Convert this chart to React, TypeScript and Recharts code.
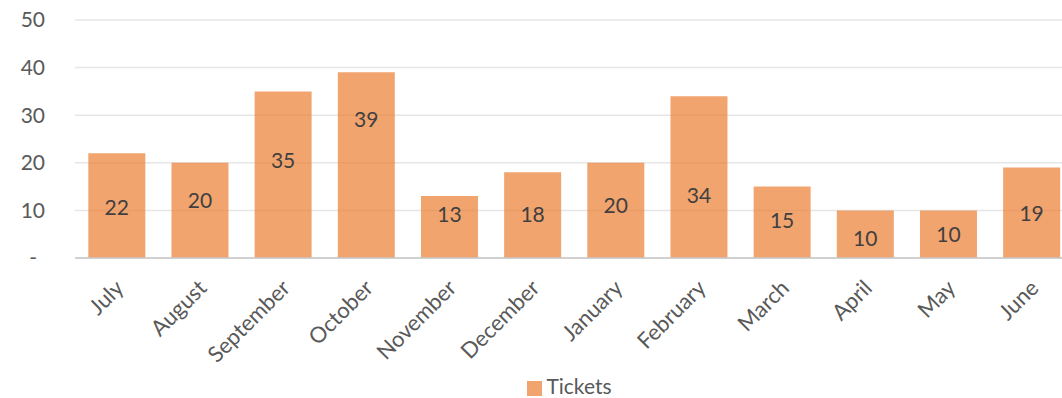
import { BarChart, Bar, XAxis, YAxis, CartesianGrid, Legend } from "recharts";

const months = [
  "July", "August", "September", "October", "November", "December",
  "January", "February", "March", "April", "May", "June",
];
const tickets = [22, 20, 35, 39, 13, 18, 20, 34, 15, 10, 10, 19];
const yTicks = [0, 10, 20, 30, 40, 50];

// data labels in the original were nudged by hand; px offsets from the bar centre
const labelShift = [2, -10, -14, -46, -12, -1, -5, 19, -2, 4, 0, 1];

const data = months.map((month, i) => ({ month, Tickets: tickets[i] }));

const font = "Lato, 'Open Sans', sans-serif";
const textColor = "#595959";
const barColor = "rgba(237,125,49,0.7)";

// rotated month label, ending just under the category centre
function MonthTick({ x, y, payload }: any) {
  return (
    <text
      transform={`translate(${x + 3},${y + 18}) rotate(-45)`}
      textAnchor="end"
      dy="0.35em"
      fill={textColor}
      fontSize={22}
      fontFamily={font}
    >
      {payload.value}
    </text>
  );
}

function ValueLabel({ x, y, width, height, value, index }: any) {
  const cy = y + height / 2 + (labelShift[index] ?? 0);
  return (
    <text
      x={x + width / 2}
      y={cy}
      dy="0.35em"
      textAnchor="middle"
      fill="#404040"
      fontSize={21}
      fontFamily={font}
    >
      {value}
    </text>
  );
}

export default function App() {
  return (
    <div style={{ position: "absolute", left: 0, top: 0, width: 1062, height: 398, overflow: "hidden", background: "#fff" }}>
      <BarChart
        width={1062}
        height={398}
        data={data}
        margin={{ top: 20, right: -11, left: 0, bottom: 0 }}
        barCategoryGap="16%"
      >
        <CartesianGrid vertical={false} stroke="#E6E6E6" strokeWidth={1.5} />
        <XAxis
          dataKey="month"
          interval={0}
          height={115}
          tickLine={false}
          axisLine={{ stroke: "#C8C8C8", strokeWidth: 1.5 }}
          tick={<MonthTick />}
        />
        <YAxis
          width={75}
          domain={[0, 50]}
          ticks={yTicks}
          axisLine={false}
          tickLine={false}
          tickSize={0}
          tickMargin={30}
          tickFormatter={(v: number) => (v === 0 ? "-\u00a0\u2009" : String(v))}
          tick={{ fill: textColor, fontSize: 21, fontFamily: font }}
        />
        <Legend
          verticalAlign="bottom"
          iconType="square"
          iconSize={15}
          wrapperStyle={{ fontFamily: font, fontSize: 21, left: 38 }}
          formatter={(v: string) => <span style={{ color: textColor }}>{v}</span>}
        />
        <Bar
          dataKey="Tickets"
          fill={barColor}
          isAnimationActive={false}
          label={(p: any) => <ValueLabel {...p} />}
        />
      </BarChart>
    </div>
  );
}
